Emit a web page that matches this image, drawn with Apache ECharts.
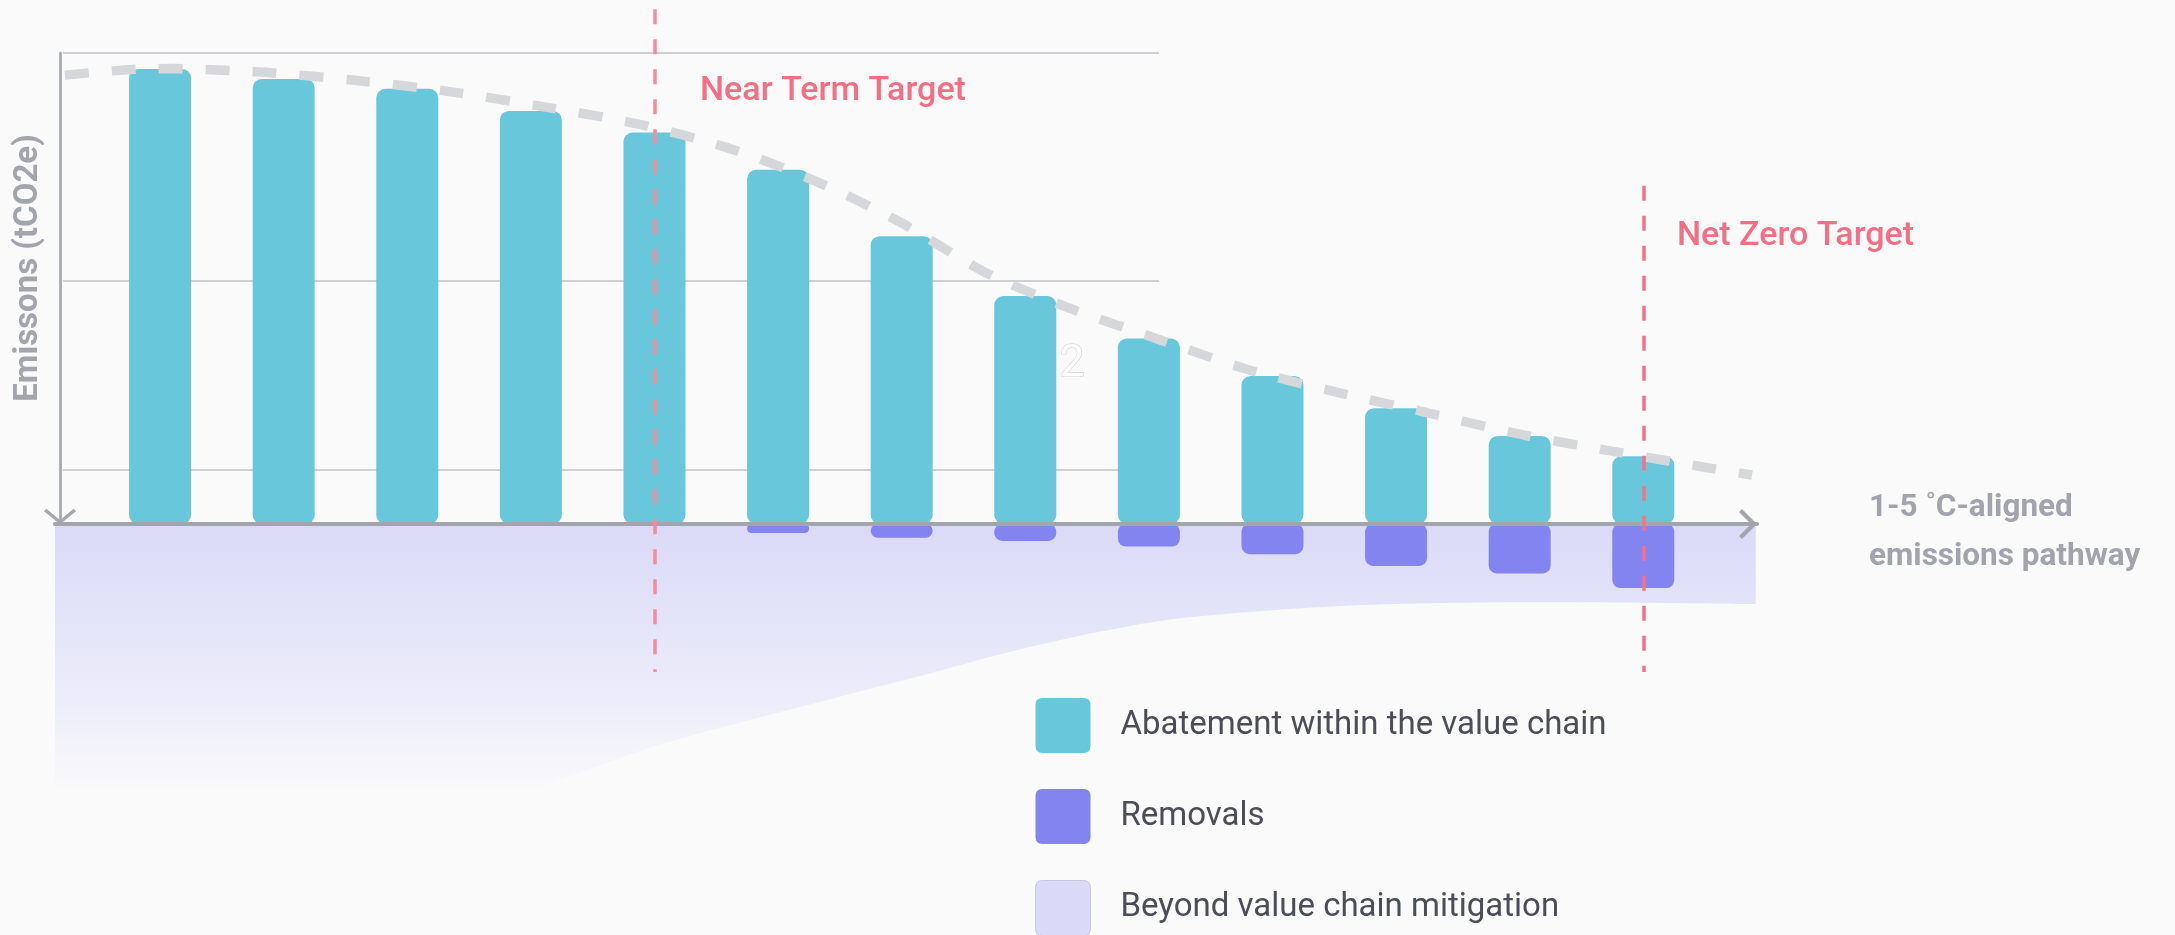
<!DOCTYPE html>
<html>
<head>
<meta charset="UTF-8">
<title>Emissions pathway</title>
<script src="https://cdn.jsdelivr.net/npm/echarts@6/dist/echarts.min.js"></script>
<style>
  html, body { margin: 0; padding: 0; background: #fafafa; }
  #main { width: 2175px; height: 935px; }
</style>
</head>
<body>
<div id="main"></div>
<script>
// x = period slot, y = emissions in relative units (top gridline = 100)
var periods = [1, 2, 3, 4, 5, 6, 7, 8, 9, 10, 11, 12, 13];
var abatement = [96.6, 94.5, 92.4, 87.7, 83.1, 75.2, 61.1, 48.4, 39.4, 31.4, 24.6, 18.7, 14.4];
var removals = [null, null, null, null, null, -1.9, -2.9, -3.6, -4.8, -6.4, -8.9, -10.5, -13.6];

// 1.5 °C-aligned pathway (dashed curve)
var pathwayX = [0.23, 0.71, 1.09, 1.47, 1.85, 2.61, 3.37, 4.12, 4.87, 5.60, 6.32, 7.00, 7.67, 8.35, 9.07, 9.80, 10.55, 11.29, 12.03, 12.78, 13.53, 13.88];
var pathwayY = [95.3, 96.4, 96.7, 96.4, 95.9, 94.1, 91.7, 88.5, 84.9, 79.8, 72.6, 63.9, 53.5, 45.9, 39.3, 32.8, 27.8, 23.4, 18.9, 15.3, 11.9, 10.4];

// lower edge of the beyond-value-chain band
var beyondX = [0.15, 2.94, 4.23, 4.95, 5.67, 6.39, 7.12, 7.84, 8.56, 9.29, 10.73, 12.17, 13.91];
var beyondY = [-75, -66, -54.4, -47.6, -42.3, -37.4, -32.5, -27.4, -23.1, -19.9, -17.2, -16.6, -17.0];

var gridLevels = [100, 51.6, 11.5];

var targetNames = ['Near Term Target', 'Net Zero Target'];
var targetPeriods = [5, 13];
var targetTops = [109.3, 71.8];
var targetBottom = -31.4;

var FONT = 'Roboto, "Noto Sans", sans-serif';
var U = 4.71;        // px per unit
var ZERO_Y = 524;    // pixel row of zero
var CHEV_X = 'path://M0,15 L15,0 L30,15 L27,18 L15,6 L3,18 Z';
var CHEV_Y = 'path://M0,13 L16,0 L32,13 L29.5,15.5 L16,4 L2.5,15.5 Z';
var LEG_BOX = 'path://M7,0 L48,0 Q55,0 55,7 L55,48 Q55,55 48,55 L7,55 Q0,55 0,48 L0,7 Q0,0 7,0 Z';

var myChart = echarts.init(document.getElementById('main'));

var option = {
  backgroundColor: '#fafafa',
  animation: false,
  grid: [
    { left: 55, right: 418, top: ZERO_Y - 110 * U, height: 170 * U },
    { left: 60, width: 1099, top: 53, height: ZERO_Y - 53 }
  ],
  xAxis: [
    {
      gridIndex: 0, type: 'value', min: 0.15, max: 13.92, z: 4,
      axisLine: {
        onZero: true,
        lineStyle: { color: '#a3a5ad', width: 4 },
        symbol: ['none', CHEV_X], symbolSize: [30, 18], symbolOffset: [0, -9]
      },
      axisTick: { show: false }, axisLabel: { show: false }, splitLine: { show: false }
    },
    { gridIndex: 1, type: 'value', min: 0, max: 1, show: false }
  ],
  yAxis: [
    { gridIndex: 0, type: 'value', min: -60, max: 110, show: false },
    {
      gridIndex: 1, type: 'value', min: 0, max: 100,
      axisLine: {
        show: true,
        lineStyle: { color: '#a5a7af', width: 2.7 },
        symbol: [CHEV_Y, 'none'], symbolSize: [32, 15.5], symbolOffset: [7.5, 0]
      },
      axisTick: { show: false }, axisLabel: { show: false }, splitLine: { show: false }
    }
  ],
  legend: {
    orient: 'vertical', left: 1035, top: 698, height: 320, padding: 0,
    itemWidth: 55, itemHeight: 55, itemGap: 36,
    icon: LEG_BOX, selectedMode: false,
    textStyle: { fontFamily: FONT, fontSize: 33, color: '#4b4e58', padding: [0, 0, 0, 25] },
    data: [
      { name: 'Abatement within the value chain', itemStyle: { color: '#69c7dc' } },
      { name: 'Removals', itemStyle: { color: '#8384ef' } },
      { name: 'Beyond value chain mitigation', itemStyle: { color: '#dadaf8', borderColor: '#c8c8e2', borderWidth: 1 } }
    ]
  },
  series: [
    {
      name: 'Beyond value chain mitigation',
      type: 'line', xAxisIndex: 0, yAxisIndex: 0, z: 1,
      color: '#dadaf8',
      smooth: 0.3, symbol: 'none',
      lineStyle: { width: 0 },
      areaStyle: {
        opacity: 1,
        color: new echarts.graphic.LinearGradient(0, ZERO_Y, 0, 795, [
          { offset: 0, color: '#dadaf8' },
          { offset: 0.6, color: '#ebebfa' },
          { offset: 1, color: '#fafafa' }
        ], true)
      },
      data: beyondX.map(function (x, i) { return [x, beyondY[i]]; }),
      markLine: {
        silent: true, z: 1, symbol: 'none', animation: false,
        label: { show: false },
        lineStyle: { color: '#cfcfd4', width: 2, type: 'solid' },
        data: gridLevels.map(function (v) {
          return [{ coord: [0.215, v] }, { coord: [9.083, v] }];
        })
      }
    },
    {
      name: 'Abatement within the value chain',
      type: 'bar', stack: 'total', z: 2,
      barWidth: 62,
      itemStyle: { color: '#69c7dc', borderRadius: 9 },
      data: periods.map(function (p, i) { return [p, abatement[i]]; })
    },
    {
      name: 'Removals',
      type: 'bar', stack: 'total', z: 2,
      barWidth: 62,
      itemStyle: { color: '#8384ef', borderRadius: 8 },
      data: periods.map(function (p, i) { return [p, removals[i]]; })
    },
    {
      name: 'pathway',
      type: 'line', z: 3,
      smooth: 0.3, symbol: 'none',
      lineStyle: { color: '#d6d7db', width: 9.5, type: [24, 23], cap: 'butt' },
      data: pathwayX.map(function (x, i) { return [x, pathwayY[i]]; }),
      markLine: {
        silent: true, z: 6, symbol: 'none', animation: false,
        label: { show: false },
        data: targetPeriods.map(function (p, i) {
          return [
            { coord: [p, targetTops[i]], lineStyle: { color: i === 0 ? '#f58c9d' : '#f3718a', width: 3.5, type: [15, 15] } },
            { coord: [p, targetBottom] }
          ];
        })
      }
    }
  ],
  graphic: [
    {
      type: 'text', x: 29, y: 268, rotation: Math.PI / 2,
      style: { text: 'Emissons (tCO2e)', fontFamily: FONT, fontSize: 33, fontWeight: 'bold', fill: '#a3a5ad',
               align: 'center', verticalAlign: 'middle', textAlign: 'center', textVerticalAlign: 'middle' }
    },
    {
      type: 'text', x: 700, y: 91,
      style: { text: targetNames[0], fontFamily: FONT, fontSize: 34, fontWeight: 500, fill: '#f46e84',
               align: 'left', verticalAlign: 'middle', textAlign: 'left', textVerticalAlign: 'middle' }
    },
    {
      type: 'text', x: 1677, y: 236,
      style: { text: targetNames[1], fontFamily: FONT, fontSize: 34, fontWeight: 500, fill: '#f46e84',
               align: 'left', verticalAlign: 'middle', textAlign: 'left', textVerticalAlign: 'middle' }
    },
    {
      type: 'text', x: 1869, y: 508,
      style: { text: '1-5 \u02DAC-aligned', fontFamily: FONT, fontSize: 31.5, fontWeight: 'bold', fill: '#a2a4ad',
               align: 'left', verticalAlign: 'middle', textAlign: 'left', textVerticalAlign: 'middle' }
    },
    {
      type: 'text', x: 1869, y: 557,
      style: { text: 'emissions pathway', fontFamily: FONT, fontSize: 31.5, fontWeight: 'bold', fill: '#a2a4ad',
               align: 'left', verticalAlign: 'middle', textAlign: 'left', textVerticalAlign: 'middle' }
    },
    {
      type: 'text', x: 1072, y: 365, z: 10,
      style: { text: '2', fontFamily: FONT, fontSize: 44, fill: '#ffffff', stroke: '#d0d0d5', lineWidth: 1.2,
               align: 'center', verticalAlign: 'middle', textAlign: 'center', textVerticalAlign: 'middle' }
    }
  ]
};

myChart.setOption(option);
</script>
</body>
</html>
